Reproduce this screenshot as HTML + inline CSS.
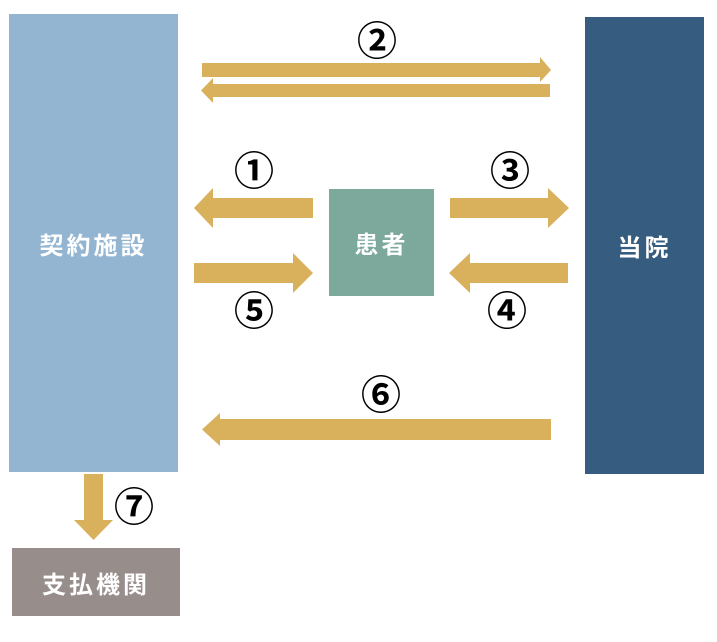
<!DOCTYPE html>
<html><head><meta charset="utf-8"><style>
body{margin:0;width:717px;height:642px;background:#fff;position:relative;overflow:hidden;font-family:"Liberation Sans","Noto Sans CJK JP",sans-serif}
.b{position:absolute;display:flex;align-items:center;justify-content:center;color:#fff;font-weight:bold;font-size:24px;letter-spacing:3px}
.n{position:absolute;font-size:40px;line-height:40px;font-weight:bold;color:#000;transform:translateX(-50%)}
svg{position:absolute;left:0;top:0}
</style></head><body>
<div class="b" style="left:9px;top:14px;width:169px;height:458px;background:#93b5d2">契約施設</div>
<div class="b" style="left:585px;top:17px;width:119px;height:457px;background:#365d7f">当院</div>
<div class="b" style="left:329px;top:189px;width:105px;height:107px;background:#7da89c">患者</div>
<div class="b" style="left:12px;top:548px;width:168px;height:68px;background:#978d8b">支払機関</div>
<svg width="717" height="642" fill="#d9b15c">
<polygon points="202,63 540,63 540,57 551,70 540,82 540,77 202,77"/>
<polygon points="550,84 213,84 213,78 201,90.5 213,103 213,97 550,97"/>
<polygon points="313,198 213,198 213,188 194,208 213,228 213,218 313,218"/>
<polygon points="450,198 548,198 548,188 569,208 548,228 548,218 450,218"/>
<polygon points="194,263 293,263 293,253 313,273 293,293 293,283 194,283"/>
<polygon points="568,263 470,263 470,253 449,273 470,293 470,283 568,283"/>
<polygon points="551,419 220,419 220,413 202,429.5 220,446 220,440 551,440"/>
<polygon points="84,474 103,474 103,520 113,520 93.5,540 74,520 84,520"/>
</svg>
<div class="n" style="left:377px;top:22px">②</div>
<div class="n" style="left:254px;top:152px">①</div>
<div class="n" style="left:510px;top:152px">③</div>
<div class="n" style="left:254px;top:292px">⑤</div>
<div class="n" style="left:507px;top:292px">④</div>
<div class="n" style="left:381px;top:376px">⑥</div>
<div class="n" style="left:134px;top:488px">⑦</div>
</body></html>
